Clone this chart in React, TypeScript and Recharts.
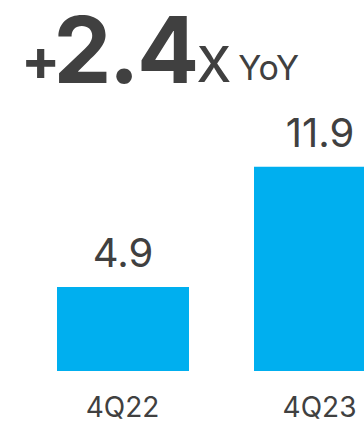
import { BarChart, Bar, XAxis, YAxis, LabelList } from "recharts";

const quarters = ["4Q22", "4Q23"];
const values = [4.9, 11.9];
const headline = { plus: "+", multiple: "2.4", x: "X", suffix: "YoY" };

const chartData = quarters.map((q, i) => ({ quarter: q, value: values[i] }));

const FONT = "Inter, 'Open Sans', sans-serif";
const TEXT = "#404040";
const BLUE = "#00AFEF";

export default function App() {
  return (
    <div
      style={{
        position: "absolute",
        left: 0,
        top: 0,
        width: 364,
        height: 423,
        overflow: "hidden",
        background: "#fff",
        fontFamily: FONT,
        color: TEXT,
      }}
    >
      {/* headline, one baseline */}
      <div
        style={{
          position: "absolute",
          left: 21,
          top: 4,
          display: "flex",
          alignItems: "baseline",
          lineHeight: 1,
          whiteSpace: "nowrap",
        }}
      >
        <span style={{ fontSize: 58, fontWeight: 700, position: "relative", top: -3, letterSpacing: -7 }}>
          {headline.plus}
        </span>
        <span style={{ fontSize: 92, fontWeight: 700, letterSpacing: -2.5 }}>
          {headline.multiple}
        </span>
        <span style={{ fontSize: 49, fontWeight: 500, position: "relative", top: -1 }}>
          {headline.x}
        </span>
        <span style={{ fontSize: 34, fontWeight: 400, marginLeft: 7, position: "relative", top: -3 }}>
          {headline.suffix}
        </span>
      </div>

      <div style={{ position: "absolute", left: 0, top: 0 }}>
        <BarChart
          width={420}
          height={423}
          data={chartData}
          margin={{ top: 165, right: 2, bottom: 0, left: 24 }}
        >
          <YAxis hide domain={[0, 12]} />
          <XAxis
            dataKey="quarter"
            axisLine={false}
            tickLine={false}
            height={52}
            tickMargin={20}
            tick={{ fill: TEXT, fontSize: 28, fontFamily: FONT }}
          />
          <Bar dataKey="value" fill={BLUE} barSize={132} isAnimationActive={false}>
            <LabelList
              dataKey="value"
              position="top"
              offset={20}
              fill={TEXT}
              fontSize={40}
              fontFamily={FONT}
              formatter={(v: number) => v.toFixed(1)}
            />
          </Bar>
        </BarChart>
      </div>
    </div>
  );
}
